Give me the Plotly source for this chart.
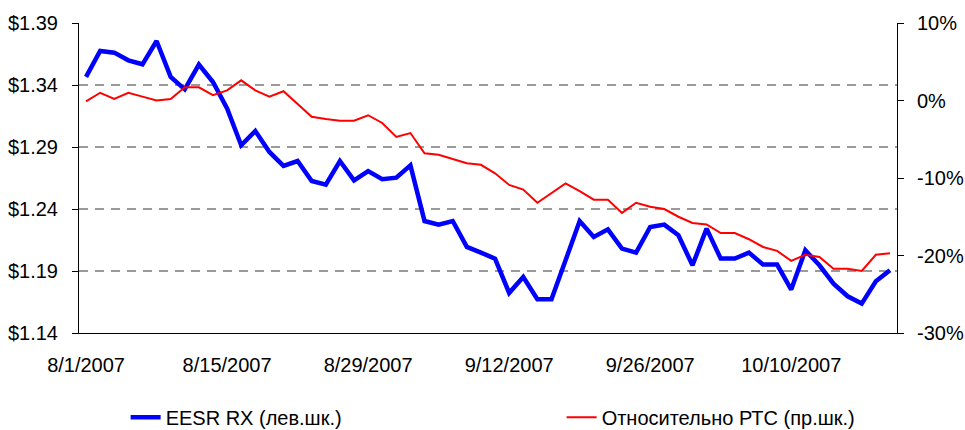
import plotly.graph_objects as go

dates = [
    "8/1/2007", "8/2/2007", "8/3/2007", "8/6/2007", "8/7/2007", "8/8/2007", "8/9/2007", "8/10/2007",
    "8/13/2007", "8/14/2007", "8/15/2007", "8/16/2007", "8/17/2007", "8/20/2007", "8/21/2007",
    "8/22/2007", "8/23/2007", "8/24/2007", "8/27/2007", "8/28/2007", "8/29/2007", "8/30/2007",
    "8/31/2007", "9/3/2007", "9/4/2007", "9/5/2007", "9/6/2007", "9/7/2007", "9/10/2007",
    "9/11/2007", "9/12/2007", "9/13/2007", "9/14/2007", "9/17/2007", "9/18/2007", "9/19/2007",
    "9/20/2007", "9/21/2007", "9/24/2007", "9/25/2007", "9/26/2007", "9/27/2007", "9/28/2007",
    "10/1/2007", "10/2/2007", "10/3/2007", "10/4/2007", "10/5/2007", "10/8/2007", "10/9/2007",
    "10/10/2007", "10/11/2007", "10/12/2007", "10/15/2007", "10/16/2007", "10/17/2007",
    "10/18/2007", "10/19/2007",
]

eesr_price = [
    1.3465, 1.3674, 1.3661, 1.3599, 1.3567, 1.3755, 1.3465, 1.3365, 1.3565, 1.3424,
    1.3210, 1.2914, 1.3029, 1.2860, 1.2747, 1.2787, 1.2626, 1.2597, 1.2787, 1.2631,
    1.2706, 1.2640, 1.2653, 1.2752, 1.2303, 1.2274, 1.2303, 1.2094, 1.2048, 1.2000,
    1.1723, 1.1852, 1.1672, 1.1672, 1.1986, 1.2303, 1.2174, 1.2236, 1.2081, 1.2048,
    1.2255, 1.2274, 1.2188, 1.1946, 1.2242, 1.2000, 1.2000, 1.2048, 1.1952, 1.1952,
    1.1750, 1.2067, 1.1946, 1.1798, 1.1696, 1.1637, 1.1817, 1.1906,
]

rel_rts = [
    -0.1, 1.0, 0.2, 1.0, 0.5, 0.0, 0.2, 1.7, 1.7, 0.7,
    1.3, 2.6, 1.3, 0.5, 1.2, -0.4, -2.1, -2.4, -2.6, -2.6,
    -1.9, -2.9, -4.7, -4.2, -6.8, -7.0, -7.6, -8.1, -8.3, -9.4,
    -10.9, -11.5, -13.2, -11.9, -10.7, -11.7, -12.8, -12.8, -14.5, -13.2,
    -13.7, -14.0, -15.0, -15.8, -16.0, -17.1, -17.1, -17.9, -18.9, -19.4,
    -20.7, -19.9, -20.2, -21.7, -21.7, -22.0, -19.9, -19.7,
]

x_labels = ["8/1/2007", "8/15/2007", "8/29/2007", "9/12/2007", "9/26/2007", "10/10/2007"]
left_ticks = [1.14, 1.19, 1.24, 1.29, 1.34, 1.39]
right_ticks = [-30, -20, -10, 0, 10]
right_tick_text = ["-30%", "-20%", "-10%", "0%", "10%"]
name_left = "EESR RX (лев.шк.)"
name_right = "Относительно РТС (пр.шк.)"

FONT = "Liberation Sans, Arial, sans-serif"
n = len(dates)
boundary_ticks = [i - 0.5 for i in range(0, n, 8)]

fig = go.Figure()
fig.add_trace(go.Scatter(
    x=dates, y=eesr_price, name=name_left, mode="lines",
    line=dict(color="#0000FF", width=4.5), xaxis="x", yaxis="y",
    legendwidth=391,
))
fig.add_trace(go.Scatter(
    x=dates, y=rel_rts, name=name_right, mode="lines",
    line=dict(color="#FF0000", width=2), xaxis="x", yaxis="y2",
    legendwidth=270,
))

fig.update_layout(
    width=965, height=430,
    margin=dict(l=79, r=68, t=23, b=97, autoexpand=False),
    paper_bgcolor="white", plot_bgcolor="white",
    font=dict(family=FONT, size=20, color="black"),
    showlegend=True,
    legend=dict(
        orientation="h", x=0.057, xanchor="left", y=-0.272, yanchor="middle",
        entrywidthmode="pixels",
        font=dict(family=FONT, size=20, color="black"),
        bgcolor="rgba(0,0,0,0)",
    ),
    xaxis=dict(
        type="category", categoryorder="array", categoryarray=dates,
        range=[-0.5, n - 0.5], automargin=False,
        tickmode="array", tickvals=x_labels, ticktext=x_labels,
        ticks="", showline=True, linecolor="black", linewidth=1,
        showgrid=False, zeroline=False, ticklabelstandoff=14,
        tickfont=dict(family=FONT, size=20, color="black"),
    ),
    xaxis2=dict(
        overlaying="x", anchor="y", side="bottom", type="linear",
        range=[-0.5, n - 0.5], tickmode="array", tickvals=boundary_ticks,
        ticks="outside", ticklen=6, tickcolor="black", tickwidth=1,
        showticklabels=False, showgrid=False, zeroline=False, showline=False,
        automargin=False,
    ),
    yaxis=dict(
        range=[1.14, 1.39], tickmode="array", tickvals=left_ticks,
        tickformat="$.2f", ticks="outside", ticklen=6, tickcolor="black",
        showline=True, linecolor="black", linewidth=1, automargin=False,
        showgrid=True, gridcolor="#9A9A9A", gridwidth=1.5, griddash="9px,7px",
        zeroline=False, ticklabelstandoff=10,
        tickfont=dict(family=FONT, size=20, color="black"),
    ),
    yaxis2=dict(
        overlaying="y", side="right", anchor="x", automargin=False,
        range=[-30, 10], tickmode="array", tickvals=right_ticks, ticktext=right_tick_text,
        ticks="outside", ticklen=6, tickcolor="black",
        showline=True, linecolor="black", linewidth=1,
        showgrid=False, zeroline=False, ticklabelstandoff=9,
        tickfont=dict(family=FONT, size=20, color="black"),
    ),
)

fig.write_html(
    "out.html",
    config={"displayModeBar": False},
    post_script="document.body.style.margin='0';document.body.style.overflow='hidden';",
)
